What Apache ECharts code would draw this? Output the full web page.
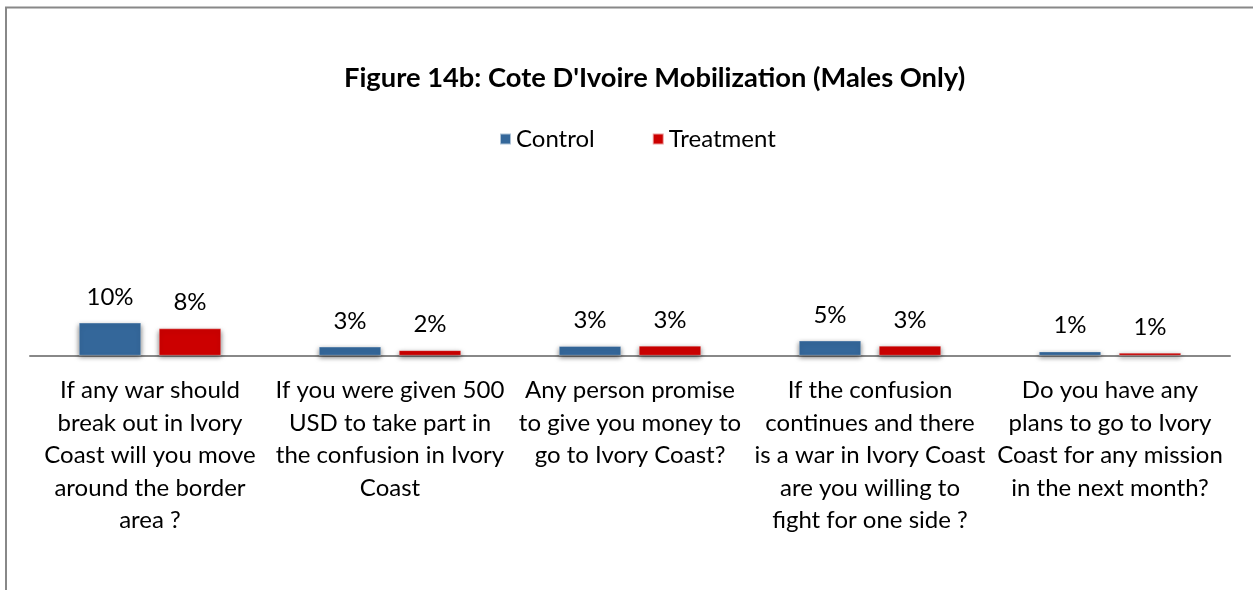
<!DOCTYPE html>
<html>
<head>
<meta charset="utf-8">
<script src="https://cdn.jsdelivr.net/npm/echarts@6/dist/echarts.min.js"></script>
<style>html,body{margin:0;padding:0;background:#fff;}#c{width:1253px;height:590px;}</style>
</head>
<body>
<div id="c"></div>
<script>
const categories = [
  "If any war should\nbreak out in Ivory\nCoast will you move\naround the border\narea ?",
  "If you were given 500\nUSD to take part in\nthe confusion in Ivory\nCoast",
  "Any person promise\nto give you money to\ngo to Ivory Coast?",
  "If the confusion\ncontinues and there\nis a war in Ivory Coast\nare you willing to\nfight for one side ?",
  "Do you have any\nplans to go to Ivory\nCoast for any mission\nin the next month?"
];
const controlValues = [0.102, 0.027, 0.029, 0.046, 0.012];
const treatmentValues = [0.084, 0.016, 0.030, 0.030, 0.008];
const seriesNames = ["Control", "Treatment"];
const titleText = "Figure 14b: Cote D'Ivoire Mobilization (Males Only)";

const FONT = "Lato";
const chart = echarts.init(document.getElementById('c'), null, {renderer: 'canvas'});
const pct = p => Math.round(p.value * 100) + '%';
const barStyle = color => ({
  color: color,
  borderColor: 'rgba(255,255,255,0.6)',
  borderWidth: 0.5,
  shadowColor: 'rgba(0,0,0,0.55)',
  shadowBlur: 5,
  shadowOffsetX: 0,
  shadowOffsetY: 2
});
const labelCfg = {show: true, position: 'top', distance: 14, formatter: pct, fontFamily: FONT, fontSize: 24, color: '#000'};
chart.setOption({
  animation: false,
  backgroundColor: '#fff',
  textStyle: {fontFamily: FONT},
  graphic: [{
    type: 'rect', silent: true, z: -1,
    shape: {x: 6, y: 7.5, width: 1400, height: 800},
    style: {fill: 'none', stroke: '#888', lineWidth: 2}
  }],
  title: {
    text: titleText,
    left: 339, top: 60,
    textStyle: {fontFamily: FONT, fontWeight: 'bold', fontSize: 27.3, color: '#000'}
  },
  legend: {
    data: seriesNames,
    top: 122, left: 494,
    itemWidth: 11, itemHeight: 11, itemGap: 57,
    icon: 'rect',
    textStyle: {fontFamily: FONT, fontSize: 24, color: '#000'}
  },
  grid: {left: 30, right: 23, top: 35.5, bottom: 234.5, containLabel: false},
  xAxis: {
    type: 'category',
    data: categories,
    axisLine: {lineStyle: {color: '#888', width: 2}},
    axisTick: {show: false},
    axisLabel: {
      interval: 0, margin: 19,
      fontFamily: FONT, fontSize: 24, lineHeight: 32.5, color: '#000', align: 'center'
    }
  },
  yAxis: {type: 'value', min: 0, max: 1, show: false, splitLine: {show: false}},
  series: [
    {
      name: seriesNames[0], type: 'bar', data: controlValues,
      barWidth: 62, barGap: '29%',
      itemStyle: barStyle('#34679A'),
      label: labelCfg
    },
    {
      name: seriesNames[1], type: 'bar', data: treatmentValues,
      barWidth: 62, barGap: '29%',
      itemStyle: barStyle('#CC0000'),
      label: labelCfg
    }
  ]
});
</script>
</body>
</html>
